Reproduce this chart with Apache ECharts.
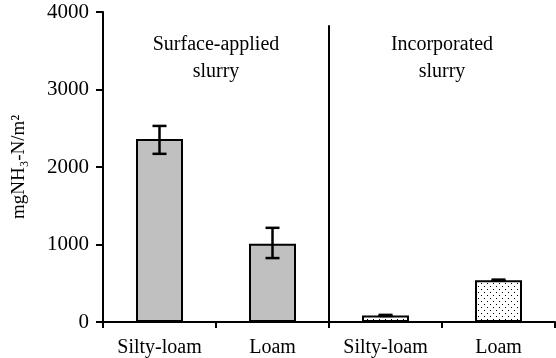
<!DOCTYPE html>
<html>
<head>
<meta charset="utf-8">
<script src="https://cdn.jsdelivr.net/npm/echarts@6/dist/echarts.min.js"></script>
<style>
  html, body { margin: 0; padding: 0; background: #fff; }
  #main { width: 556px; height: 358px; }
</style>
</head>
<body>
<div id="main"></div>
<script>
// values
var categories = ['Silty-loam', 'Loam', 'Silty-loam', 'Loam'];
var emission = [2360, 1010, 85, 540];
var errLow = [2170, 825, 78, 533];
var errHigh = [2530, 1215, 92, 547];
var groupNames = ['Surface-applied\nslurry', 'Incorporated\nslurry'];
var yTicks = [0, 1000, 2000, 3000, 4000];

var font = 'Liberation Serif';

// dotted fill for the incorporated bars
var dots = document.createElement('canvas');
dots.width = 6;
dots.height = 6;
var ctx = dots.getContext('2d');
ctx.fillStyle = '#fff';
ctx.fillRect(0, 0, 6, 6);
ctx.fillStyle = '#000';
ctx.fillRect(1, 1, 1, 1);
ctx.fillRect(4, 4, 1, 1);

var barData = [];
for (let i = 0; i < emission.length; i++) {
  let item = { value: emission[i], itemStyle: {} };
  item.itemStyle.color = i < 2 ? '#c0c0c0' : { image: dots, repeat: 'repeat' };
  barData.push(item);
}

var errData = [];
for (let i = 0; i < emission.length; i++) {
  errData.push([i, errLow[i], errHigh[i]]);
}

var myChart = echarts.init(document.getElementById('main'));

var option = {
  animation: false,
  grid: { left: 103, right: 1, top: 12, bottom: 36 },
  xAxis: [
    {
      type: 'category',
      data: categories,
      axisLine: { lineStyle: { color: '#000', width: 2 } },
      axisTick: { show: true, length: 6, lineStyle: { color: '#000', width: 2 } },
      axisLabel: { color: '#000', fontFamily: font, fontSize: 20, margin: 16 }
    },
    { type: 'value', min: 0, max: 4, show: false }
  ],
  yAxis: {
    type: 'value',
    min: 0,
    max: 4000,
    interval: 1000,
    name: 'mgNH₃-N/m²',
    nameLocation: 'middle',
    nameGap: 74,
    nameTextStyle: { color: '#000', fontFamily: font, fontSize: 19 },
    axisLine: { show: true, lineStyle: { color: '#000', width: 2 } },
    axisTick: { show: true, length: 7, lineStyle: { color: '#000', width: 2 } },
    axisLabel: {
      color: '#000', fontFamily: font, fontSize: 21, margin: 14,
      formatter: function (v) { return yTicks.indexOf(v) >= 0 ? String(v) : ''; }
    },
    splitLine: { show: false }
  },
  series: [
    {
      type: 'bar',
      data: barData,
      barWidth: 47,
      itemStyle: { borderColor: '#000', borderWidth: 2 }
    },
    {
      type: 'custom',
      data: errData,
      z: 5,
      renderItem: function (params, api) {
        var top = api.coord([api.value(0), api.value(2)]);
        var bot = api.coord([api.value(0), api.value(1)]);
        var cap = 7;
        var style = { stroke: '#000', lineWidth: 2.5 };
        return {
          type: 'group',
          children: [
            { type: 'line', shape: { x1: top[0], y1: top[1], x2: bot[0], y2: bot[1] }, style: style },
            { type: 'line', shape: { x1: top[0] - cap, y1: top[1], x2: top[0] + cap, y2: top[1] }, style: style },
            { type: 'line', shape: { x1: bot[0] - cap, y1: bot[1], x2: bot[0] + cap, y2: bot[1] }, style: style }
          ]
        };
      }
    },
    {
      // divider and group headings, placed on a hidden 0..4 axis
      type: 'custom',
      xAxisIndex: 1,
      data: [[2, 0, 3830]],
      renderItem: function (params, api) {
        var top = api.coord([api.value(0), api.value(2)]);
        var bot = api.coord([api.value(0), api.value(1)]);
        var left = api.coord([1, 3400]);
        var right = api.coord([3, 3400]);
        var ts = { fill: '#000', font: '20px ' + font, align: 'center', verticalAlign: 'middle', lineHeight: 27 };
        return {
          type: 'group',
          children: [
            { type: 'line', shape: { x1: top[0], y1: top[1], x2: bot[0], y2: bot[1] }, style: { stroke: '#000', lineWidth: 2 } },
            { type: 'text', x: left[0], y: left[1], style: Object.assign({ text: groupNames[0] }, ts) },
            { type: 'text', x: right[0], y: right[1], style: Object.assign({ text: groupNames[1] }, ts) }
          ]
        };
      }
    }
  ]
};

myChart.setOption(option);
</script>
</body>
</html>
